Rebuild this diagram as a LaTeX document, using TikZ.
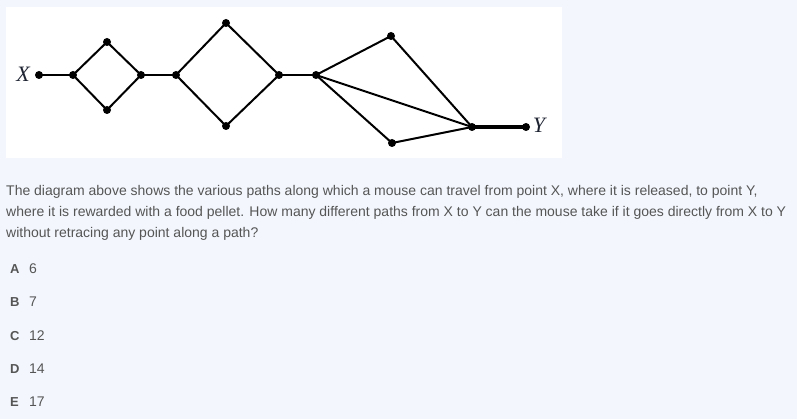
\documentclass[tikz,border=0pt]{standalone}
\usepackage{fontspec}
\setmainfont{Liberation Sans}
\newfontfamily\serifit{Liberation Serif}
\definecolor{bgc}{HTML}{F3F7FD}
\definecolor{txt}{HTML}{555555}
\definecolor{lbl}{HTML}{1F2433}
\begin{document}
\begin{tikzpicture}[x=1pt,y=-1pt,
  dot/.style={circle,fill=black,inner sep=0pt,minimum size=8pt},
  edge/.style={line width=2pt,black},
  thick edge/.style={line width=4pt,black},
  lab/.style={font=\serifit\itshape\fontsize{22}{22}\selectfont,text=lbl,inner sep=0pt},
  qtext/.style={anchor=base west,inner sep=0pt,text=txt,font=\fontsize{14}{16}\selectfont},
  optl/.style={anchor=base west,inner sep=0pt,text=txt,font=\bfseries\fontsize{13}{15}\selectfont},
  optv/.style={anchor=base west,inner sep=0pt,text=txt,font=\fontsize{14}{16}\selectfont}]
\fill[bgc] (0,0) rectangle (797,419);
\useasboundingbox (0,0) rectangle (797,419);
\fill[white] (6,7) rectangle (562,158);
% nodes
\node[dot] (x) at (39,75) {};
\node[dot] (a) at (73,75) {};
\node[dot] (at) at (107,42) {};
\node[dot] (ab) at (107,110) {};
\node[dot] (b) at (141,75) {};
\node[dot] (c) at (176,75) {};
\node[dot] (ct) at (226,23) {};
\node[dot] (cb) at (226,126) {};
\node[dot] (d) at (279,75) {};
\node[dot] (e) at (316,75) {};
\node[dot] (et) at (391,36) {};
\node[dot] (eb) at (392,143) {};
\node[dot] (f) at (472,127) {};
\node[dot] (y) at (526,127) {};
\node[lab] (xl) at (23,74) {X};
\node[lab] (yl) at (539,125) {Y};
% edges
\draw[edge] (x.center) -- (a.center);
\draw[edge] (a.center) -- (at.center) -- (b.center) -- (ab.center) -- cycle;
\draw[edge] (b.center) -- (c.center);
\draw[edge] (c.center) -- (ct.center) -- (d.center) -- (cb.center) -- cycle;
\draw[edge] (d.center) -- (e.center);
\draw[edge] (e.center) -- (et.center) -- (f.center);
\draw[edge] (e.center) -- (f.center);
\draw[edge] (e.center) -- (eb.center) -- (f.center);
\draw[thick edge] (f.center) -- (y.center);
% question
\node[qtext] (q1) at (6,196) {The diagram above shows the various paths along which a mouse can travel from point X, where it is released, to point Y,};
\node[qtext] (q2) at (6,217) {where it is rewarded with a food pellet. How many different paths from X to Y can the mouse take if it goes directly from X to Y};
\node[qtext] (q3) at (6,238) {without retracing any point along a path?};
% options
\node[optl] (oA) at (10,274) {A};
\node[optv] (vA) at (29,274) {6};
\node[optl] (oB) at (10,307) {B};
\node[optv] (vB) at (29,307) {7};
\node[optl] (oC) at (10,340) {C};
\node[optv] (vC) at (29,340) {12};
\node[optl] (oD) at (10,373) {D};
\node[optv] (vD) at (29,373) {14};
\node[optl] (oE) at (10,406) {E};
\node[optv] (vE) at (29,406) {17};
\end{tikzpicture}
\end{document}
